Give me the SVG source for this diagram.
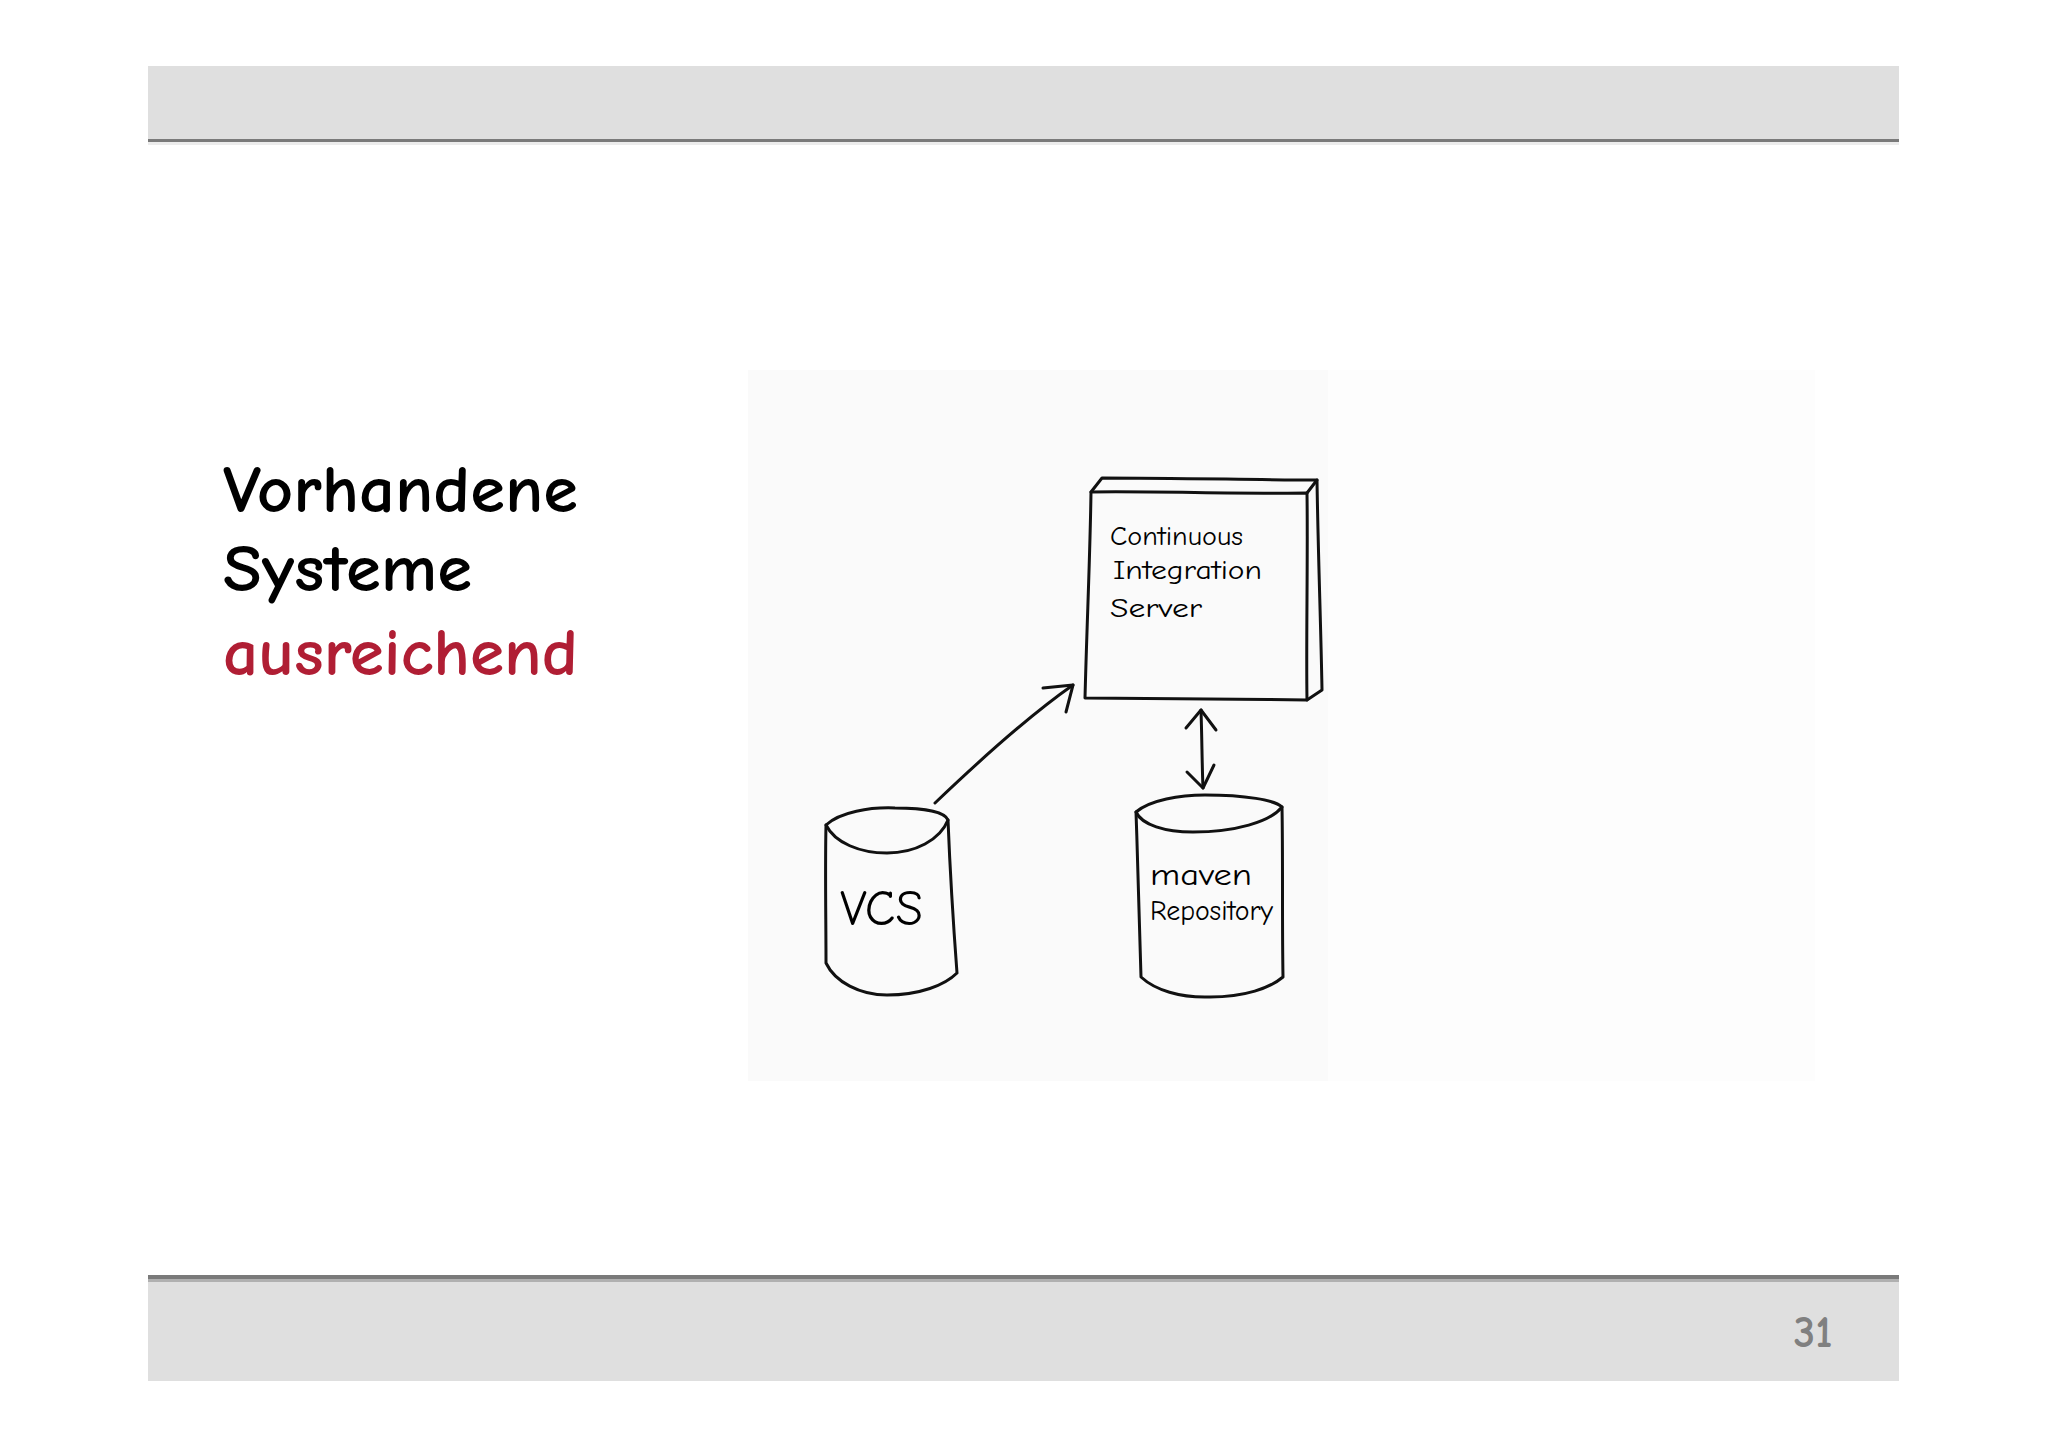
<svg xmlns="http://www.w3.org/2000/svg" width="2048" height="1447" viewBox="0 0 2048 1447">
<defs>
<style>
.bar{fill:#dfdfdf}
.rule{fill:#7a7a7a}
.title{font-family:"Comic Sans MS","Comic Neue","Liberation Sans",sans-serif;font-size:66px;font-weight:700}
.hand{fill:none;stroke:#111;stroke-width:3;stroke-linecap:round;stroke-linejoin:round}
.htext{font-family:"Comic Neue","Liberation Sans","DejaVu Sans",sans-serif;font-weight:400;fill:#000}
</style>
</defs>
<rect width="2048" height="1447" fill="#ffffff"/>
<!-- header / footer bars -->
<rect class="bar" x="148" y="66" width="1751" height="74"/>
<rect class="rule" x="148" y="139" width="1751" height="3"/>
<rect x="148" y="142" width="1751" height="3" fill="#ececec"/>
<rect class="bar" x="148" y="1275" width="1751" height="106"/>
<rect class="rule" x="148" y="1275" width="1751" height="4"/>
<rect x="148" y="1279" width="1751" height="3" fill="#b0b0b0"/>
<text x="1813" y="1347" text-anchor="middle" font-family="Comic Sans MS,Comic Neue,Liberation Sans,sans-serif" font-size="44" font-weight="700" fill="#808080">31</text>
<!-- title -->
<text class="title" x="223" y="512" fill="#000" textLength="355" lengthAdjust="spacingAndGlyphs">Vorhandene</text>
<text class="title" x="223" y="591" fill="#000" textLength="249" lengthAdjust="spacingAndGlyphs">Systeme</text>
<text class="title" x="223" y="675" fill="#b01e34" textLength="355" lengthAdjust="spacingAndGlyphs">ausreichend</text>
<!-- picture background -->
<rect x="748" y="370" width="1067" height="711" fill="#fdfdfd"/>
<rect x="748" y="370" width="580" height="711" fill="#fafafa"/>
<!-- CI server node -->
<g id="ci-server">
<path class="hand" d="M1091 492 C1150 491 1240 494 1307 493 C1308 560 1306 640 1307 700 C1230 699 1150 698 1085 698 C1087 620 1090 560 1091 492 Z"/>
<path class="hand" d="M1091 492 L1102 478 C1180 478 1260 480 1317 480 L1307 493"/>
<path class="hand" d="M1317 480 C1318 550 1321 630 1322 690 L1307 700"/>
<text class="htext" font-size="27" x="1110" y="545" textLength="133" lengthAdjust="spacingAndGlyphs">Continuous</text>
<text class="htext" font-size="27" x="1113" y="579" textLength="149" lengthAdjust="spacingAndGlyphs">Integration</text>
<text class="htext" font-size="27" x="1110" y="617" textLength="92" lengthAdjust="spacingAndGlyphs">Server</text>
</g>
<!-- VCS node -->
<g id="vcs">
<path class="hand" d="M826 825 C840 812 870 807 895 808 C925 808 945 812 948 820 C940 840 915 853 887 853 C860 853 835 843 826 825 Z"/>
<path class="hand" d="M826 825 C825 870 826 920 826 963 C835 982 860 995 887 995 C920 995 945 985 957 973 C953 920 950 870 948 820"/>
<text class="htext" font-size="50" x="840" y="925" textLength="83" lengthAdjust="spacingAndGlyphs">VCS</text>
</g>
<!-- maven repository node -->
<g id="maven-repo">
<path class="hand" d="M1136 812 C1150 800 1180 795 1205 795 C1245 795 1275 800 1282 807 C1270 822 1235 832 1193 832 C1165 832 1142 825 1136 812 Z"/>
<path class="hand" d="M1136 812 C1138 870 1140 930 1141 977 C1155 990 1180 998 1210 997 C1245 997 1270 988 1283 977 C1282 920 1283 860 1282 807"/>
<text class="htext" font-size="30" x="1150" y="885" textLength="102" lengthAdjust="spacingAndGlyphs">maven</text>
<text class="htext" font-size="29" x="1150" y="920" textLength="123" lengthAdjust="spacingAndGlyphs">Repository</text>
</g>
<!-- connectors -->
<g id="connectors">
<path class="hand" d="M935 803 C980 760 1030 715 1073 685"/>
<path class="hand" d="M1043 688 L1073 685 L1066 712"/>
<path class="hand" d="M1201 710 C1202 740 1202 765 1203 788"/>
<path class="hand" d="M1186 728 L1201 710 L1216 730"/>
<path class="hand" d="M1187 772 L1203 788 L1214 765"/>
</g>
</svg>
